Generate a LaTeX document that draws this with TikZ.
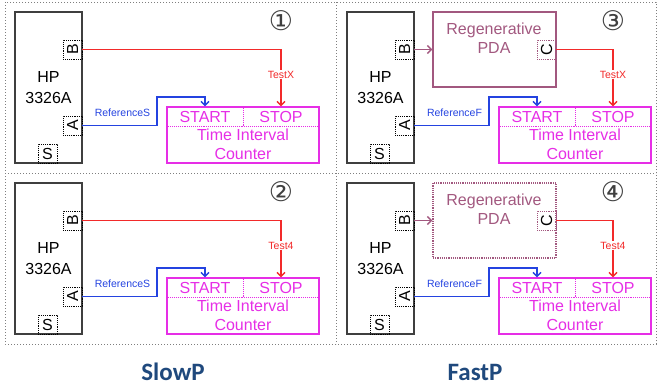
\documentclass[tikz,border=0pt]{standalone}
\usepackage{fontspec}
\setsansfont{Liberation Sans}
\newfontfamily\titlefont{Carlito}
\newfontfamily\symfont{DejaVu Sans}
\usetikzlibrary{arrows.meta, positioning}
\definecolor{cred}{HTML}{F22A2A}
\definecolor{cblue}{HTML}{2443E0}
\definecolor{cmag}{HTML}{E62EE6}
\definecolor{cmauve}{HTML}{A2587F}
\definecolor{cgrey}{HTML}{3F3F3F}
\definecolor{cframe}{HTML}{7F7F7F}
\definecolor{ctitle}{HTML}{1F497D}
\tikzset{
  every picture/.style={font=\sffamily, line width=1.2pt, x=1pt, y=-1pt},
  unit/.style={draw=cgrey, minimum width=67pt, minimum height=151pt, inner sep=0pt, align=center, font=\sffamily\fontsize{16}{21}\selectfont},
  port/.style={draw=black, densely dotted, line width=0.9pt, minimum size=19pt, inner sep=0pt, font=\sffamily\fontsize{16}{16}\selectfont},
  counter/.style={draw=cmag, minimum width=152pt, minimum height=56pt, inner sep=0pt},
  half/.style={minimum width=76pt, minimum height=19pt, inner sep=0pt, text=cmag, font=\sffamily\fontsize{16}{16}\selectfont},
  ctrtext/.style={text=cmag, align=center, inner sep=0pt, font=\sffamily\fontsize{16}{19}\selectfont},
  pdabox/.style={draw=cmauve, minimum width=123pt, minimum height=75pt, inner sep=0pt},
  pdatext/.style={text=cmauve, align=center, inner sep=0pt, font=\sffamily\fontsize{16}{19}\selectfont},
  siglabel/.style={inner sep=1pt, font=\sffamily\fontsize{10.5}{11}\selectfont},
  testline/.style={draw=cred, line width=1.4pt, -{Straight Barb[length=4pt, width=8pt]}},
  refline/.style={draw=cblue, line width=1.4pt, -{Straight Barb[length=4pt, width=8pt]}},
  pdaline/.style={draw=cmauve, line width=1.4pt, -{Straight Barb[length=4pt, width=8pt]}},
  frame/.style={draw=cframe, dotted, line width=1pt},
  numtext/.style={inner sep=0pt, text=cgrey, font=\symfont\fontsize{27}{27}\selectfont},
  title/.style={text=ctitle, font=\titlefont\bfseries\fontsize{25}{25}\selectfont},
}
\begin{document}
\begin{tikzpicture}
  \useasboundingbox (0,0) rectangle (658,388);
  % one panel: HP 3326A, its ports and the counter; x y tag number reference
  \newcommand{\panel}[5]{%
    \begin{scope}[shift={(#1,#2)}]
      \node[unit] (hp#3) at (48.5,87.5) {HP\\3326A};
      \node[port] (b#3) at (72.5,49.5) {\rotatebox{90}{B}};
      \node[port] (a#3) at (72.5,125.5) {\rotatebox{90}{A}};
      \node[port] (s#3) at (47.5,153.5) {S};
      \node[counter] (ctr#3) at (243,135) {};
      \node[half, anchor=north west] (start#3) at (ctr#3.north west) {START};
      \node[half, anchor=north east] (stop#3) at (ctr#3.north east) {STOP};
      \node[ctrtext] (tic#3) at (243,144) {Time Interval\\Counter};
      \draw[cmag, densely dotted, line width=0.9pt] (start#3.south west) -- (stop#3.south east);
      \draw[cmag, densely dotted, line width=0.9pt] (start#3.north east) -- (start#3.south east);
      \node[numtext] (n#3) at (281,21) {#4};
      \coordinate (bend#3) at (157,97);
      \draw[refline] (a#3.east) -| (bend#3) -| (start#3.north);
      \node[siglabel, text=cblue] (rl#3) at (122.5,113) {#5};
    \end{scope}}
  % regenerative PDA between B and the counter; x y tag border
  \newcommand{\pda}[4]{%
    \begin{scope}[shift={(#1,#2)}]
      \node[pdabox, #4] (pda#3) at (162.5,49.5) {};
      \node[pdatext] (pdat#3) at (162,38.5) {Regenerative\\PDA};
      \node[port, draw=cmauve] (c#3) at (214.5,49.5) {\rotatebox{90}{C}};
    \end{scope}}

  % frame
  \draw[frame] (5,2) rectangle (656,344);
  \draw[frame] (5,173) -- (656,173);
  \draw[frame] (336,2) -- (336,344);

  % SlowP
  \panel{0}{0}{1}{①}{ReferenceS}
  \panel{0}{171}{2}{②}{ReferenceS}
  \draw[testline] (b1.east) -| node[pos=0.72, siglabel, fill=white, text=cred] (tl1) {TestX} (stop1.north);
  \draw[testline] (b2.east) -| node[pos=0.72, siglabel, fill=white, text=cred] (tl2) {Test4} (stop2.north);

  % FastP
  \panel{332}{0}{3}{③}{ReferenceF}
  \panel{332}{171}{4}{④}{ReferenceF}
  \pda{332}{0}{3}{solid}
  \pda{332}{171}{4}{densely dotted}
  \foreach \t/\lab in {3/TestX, 4/Test4}{
    \draw[pdaline] (b\t.east) -- (pda\t.west);
    \draw[testline] (c\t.east) -| node[pos=0.72, siglabel, fill=white, text=cred] (tl\t) {\lab} (stop\t.north);
  }

  \node[title] (slow) at (173,372) {SlowP};
  \node[title] (fast) at (475,372) {FastP};
\end{tikzpicture}
\end{document}
